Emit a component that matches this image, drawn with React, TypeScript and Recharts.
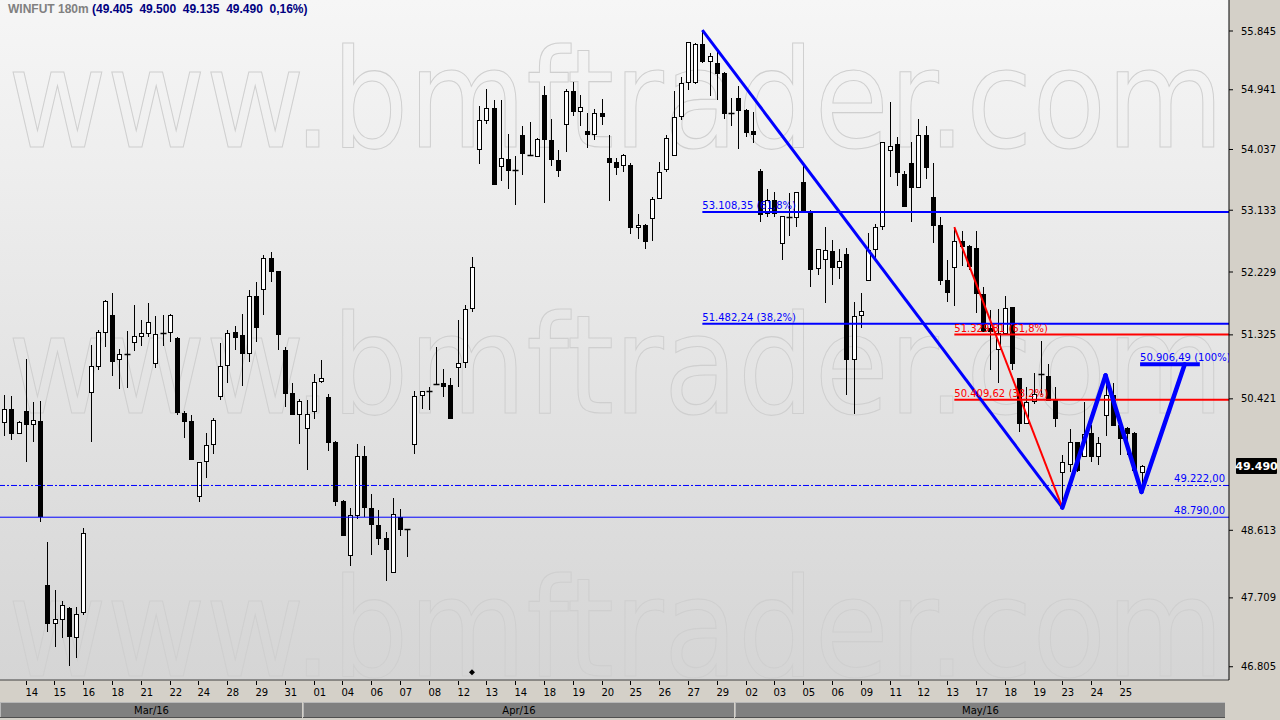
import React from 'react'
import { ComposedChart, Bar, XAxis, YAxis, ReferenceLine, ReferenceDot } from 'recharts'

// WINFUT 180m candles, one per slot, left to right (Mar/16 .. May/16)
const opens = [
  50099, 50280, 49946, 50252, 50071, 50113, 47883, 47380, 47432, 47576, 47195, 47524, 50518, 50885, 51360, 51610,
  50980, 51050, 51224, 51310, 51353, 50925, 51345, 51360, 51280, 50225, 50113, 49080, 49557, 49792, 50460, 50900,
  51360, 51324, 51066, 51882, 51985, 52430, 52240, 51109, 50504, 50210, 50015, 50250, 50666, 50447, 49815, 49010,
  48280, 48820, 49627, 48910, 48685, 48510, 48050, 48795, 48620, 49792, 50475, 50525, 50630, 50640, 50615, 50870,
  50940, 51710, 54044, 54480, 54660, 53790, 53895, 53730, 54255, 53960, 53945, 54860, 54185, 53880, 54420, 54925,
  54620, 54315, 54270, 54580, 53910, 53850, 53800, 53800, 52890, 52920, 53020, 53310, 53745, 53950, 54540, 55060,
  55060, 55645, 55385, 55350, 55200, 54580, 54820, 54640, 54315, 53715, 53090, 53284, 52650, 53025, 53030, 53545,
  53120, 52285, 52420, 52535, 52300, 52490, 50980, 51610, 52115, 52565, 52895, 54030, 54120, 53670, 53840, 53470,
  54255, 53330, 52920, 52115, 52300, 52685, 52610, 52580, 51910, 51420, 51123, 51350, 51725, 50715, 50085, 50395,
  50775, 50735, 50405, 49410, 49517, 49820, 49620, 49945, 49620, 50195, 50475, 50060, 50020, 49945, 49405,
]
const highs = [
  50475, 50460, 50110, 50983, 50377, 50390, 48456, 47814, 47668, 47590, 47585, 48645, 51180, 51390, 51830, 51925,
  51123, 51380, 51752, 51539, 51780, 51595, 51610, 51620, 51295, 50250, 50195, 49550, 49950, 50160, 51210, 51390,
  51445, 51620, 51970, 52085, 52475, 52520, 52245, 51152, 50645, 50419, 50405, 50770, 50970, 50490, 49835, 49024,
  48917, 49787, 49765, 49105, 48890, 48590, 49050, 48905, 48635, 50530, 50535, 50590, 51152, 50840, 50720, 51539,
  51752, 52445, 54690, 54950, 54785, 54785, 54270, 53945, 54390, 54455, 54205, 55000, 54490, 54030, 54955, 55060,
  54860, 54590, 54655, 54800, 54255, 53910, 53965, 53840, 53070, 52925, 53330, 53850, 54255, 54920, 55140, 55680,
  55660, 55860, 55505, 55551, 55205, 54820, 55000, 54645, 54610, 53740, 53450, 53405, 53050, 53390, 53405, 53840,
  53135, 52570, 52885, 52700, 52565, 52580, 51800, 51925, 52800, 52935, 54155, 54760, 54225, 53715, 54150, 54500,
  54390, 53840, 53040, 52400, 52885, 52830, 52615, 52830, 52010, 51680, 51695, 51880, 51730, 50720, 50590, 50785,
  51235, 50910, 50590, 49640, 50000, 49825, 50380, 50055, 49890, 50700, 50650, 50130, 50030, 49960, 49500,
]
const lows = [
  49905, 49848, 49940, 49545, 49820, 48727, 47263, 47063, 47181, 46815, 46920, 47484, 49820, 50827, 51152, 50740,
  50560, 50575, 51095, 51166, 51295, 50850, 51166, 51230, 50195, 49878, 49580, 48998, 49325, 49654, 50405, 50650,
  51109, 50600, 50940, 51230, 51610, 52085, 51109, 50307, 50205, 49792, 49435, 50140, 50650, 49695, 48943, 48545,
  48135, 48770, 48795, 48280, 48415, 47935, 48045, 48535, 48255, 49654, 50280, 50265, 50625, 50450, 50150, 50590,
  50855, 51650, 53820, 54420, 53515, 53570, 53450, 53210, 53650, 53945, 53930, 53240, 53790, 53620, 54000, 54540,
  54390, 54060, 54185, 54405, 53270, 53650, 53705, 52780, 52710, 52565, 52685, 53300, 53705, 53945, 54480, 54935,
  55035, 55350, 54850, 54785, 54490, 54390, 54045, 54230, 54140, 52955, 53040, 53040, 52400, 52750, 52885, 53130,
  52010, 52180, 51780, 52040, 52130, 50475, 50210, 51420, 52110, 52400, 52845, 53620, 53490, 53195, 52960, 53465,
  53600, 52650, 52040, 51795, 51740, 52315, 52255, 51640, 51370, 50830, 50650, 51345, 50830, 49960, 50080, 50350,
  50475, 50400, 50030, 48920, 49410, 49410, 49615, 49545, 49500, 49900, 50055, 49640, 49640, 49430, 49135,
]
const closes = [
  50280, 49946, 50099, 50071, 50127, 48810, 47380, 47432, 47616, 47208, 47498, 48581, 50885, 51360, 51810, 50955,
  51050, 51040, 51310, 51353, 51510, 51338, 51355, 51610, 50240, 50113, 49585, 49545, 49778, 50125, 50885, 51353,
  51295, 51066, 51882, 51438, 52430, 52240, 51338, 50504, 50210, 50390, 50210, 50660, 50710, 49820, 49010, 48550,
  48820, 49627, 48930, 48700, 48510, 48360, 48830, 48630, 48625, 50460, 50530, 50535, 50630, 50605, 50155, 50925,
  51695, 52300, 54480, 54660, 53520, 53910, 53730, 53725, 53985, 53955, 54200, 54200, 53895, 53730, 54925, 54620,
  54680, 54270, 54590, 54540, 53850, 53775, 53960, 52890, 52920, 52685, 53300, 53700, 54215, 54525, 55050, 55675,
  55645, 55385, 55460, 55200, 54595, 54575, 54640, 54305, 54270, 53080, 53284, 53090, 53045, 53030, 53400, 53135,
  52270, 52565, 52550, 52300, 52390, 50980, 51595, 51665, 52550, 52885, 54150, 54090, 53700, 53200, 53470, 54255,
  53775, 52910, 52115, 51940, 52685, 52610, 52315, 51925, 51375, 51380, 51350, 51710, 50925, 50085, 50380, 50490,
  50770, 50405, 50155, 49545, 49820, 49435, 49930, 49620, 49805, 50475, 50060, 49880, 49950, 49435, 49490,
]

// date axis: label every 4th slot
const dayTicks = [3, 7, 11, 15, 19, 23, 27, 31, 35, 39, 43, 47, 51, 55, 59, 63, 67, 71, 75, 79,
  83, 87, 91, 95, 99, 103, 107, 111, 115, 119, 123, 127, 131, 135, 139, 143, 147, 151, 155]
const dayLabels = ['14', '15', '16', '18', '21', '22', '24', '28', '29', '31', '01', '04', '06', '07', '08', '12',
  '13', '14', '18', '19', '20', '25', '26', '27', '29', '02', '03', '05', '06', '09', '11', '12', '13', '17', '18',
  '19', '23', '24', '25']
const monthStarts = [0, 42, 102]
const monthNames = ['Mar/16', 'Apr/16', 'May/16']

const priceTicks = [46805, 47709, 48613, 50421, 51325, 52229, 53133, 54037, 54941, 55845]

// drawings
const blueFibLevels = [53108.35, 51482.24]
const blueFibPct = ['61,8%', '38,2%']
const redFibLevels = [51329.81, 50409.62]
const redFibPct = ['61,8%', '38,2%']
const supportLevel = 48790
const dashLevel = 49222
const targetLevel = 50906.49
const trendBlue = [{ x: 97, y: 55860 }, { x: 147, y: 48920 }]
const trendRed = [{ x: 132, y: 52885 }, { x: 147, y: 48920 }]
const pattern = [{ x: 147, y: 48920 }, { x: 153, y: 50750 }, { x: 158, y: 49135 }, { x: 164, y: targetLevel }]
const markerSlot = 65
const markerPrice = 46735

const X_MIN = -0.556
const X_MAX = 170.15
const Y_MIN = 46633
const Y_MAX = 56328
const PLOT_W = 1229
const PLOT_H = 680

const data = opens.map((o, i) => ({ i, o, h: highs[i], l: lows[i], c: closes[i] }))

const fmtBR = (v: number) => {
  const [int, dec] = v.toFixed(2).split('.')
  return int.replace(/\B(?=(\d{3})+(?!\d))/g, '.') + ',' + dec
}
const fmtAxis = (v: number) => (v / 1000).toFixed(3)

const FONT = '"DejaVu Sans", Verdana, sans-serif'

function Candle(props: any) {
  const { x, y, width, height, payload } = props
  if (!payload || height == null) return null
  const cx = Math.round(x + width / 2) + 0.5
  const lh = Math.log(payload.h)
  const ll = Math.log(payload.l)
  const span = lh - ll || 1
  const py = (v: number) => y + (height * (lh - Math.log(v))) / span
  const yo = py(payload.o)
  const yc = py(payload.c)
  const top = Math.round(Math.min(yo, yc))
  const bot = Math.round(Math.max(yo, yc))
  const up = payload.c >= payload.o
  return (
    <g>
      <line x1={cx} x2={cx} y1={Math.round(y)} y2={Math.round(y + height)} stroke="#000" strokeWidth={1} />
      {bot - top < 2 ? (
        <line x1={cx - 3} x2={cx + 3} y1={top + 0.5} y2={top + 0.5} stroke="#000" strokeWidth={1.5} />
      ) : (
        <rect x={cx - 2} y={top + 0.5} width={4} height={bot - top} fill={up ? '#fff' : '#000'} stroke="#000" strokeWidth={1} />
      )}
    </g>
  )
}

function DayTick(props: any) {
  const { x, payload } = props
  const k = dayTicks.indexOf(payload.value)
  const tx = Math.round(x) + 0.5
  return (
    <g>
      <line x1={tx} x2={tx} y1={PLOT_H + 1} y2={PLOT_H + 5} stroke="#000" />
      <text x={tx - 1} y={PLOT_H + 16} fontSize={10} fontFamily={FONT} fill="#000">
        {dayLabels[k]}
      </text>
    </g>
  )
}

function MonthTick(props: any) {
  const { x, payload } = props
  const k = monthStarts.indexOf(payload.value)
  const unit = PLOT_W / (X_MAX - X_MIN)
  const left = Math.round(x - unit / 2)
  const endSlot = k + 1 < monthStarts.length ? monthStarts[k + 1] - 0.5 : X_MAX - 0.4
  const right = Math.round(x + (endSlot - payload.value) * unit)
  const top = PLOT_H + 22
  return (
    <g>
      <rect x={left} y={top} width={right - left - 1} height={16} fill="#808080" />
      <line x1={left} x2={right - 1} y1={top + 0.5} y2={top + 0.5} stroke="#b8b8b8" />
      <line x1={left + 0.5} x2={left + 0.5} y1={top} y2={top + 16} stroke="#b8b8b8" />
      <line x1={left} x2={right - 1} y1={top + 15.5} y2={top + 15.5} stroke="#505050" />
      <text x={(left + right) / 2} y={top + 12} textAnchor="middle" fontSize={10} fontFamily={FONT} fill="#000">
        {monthNames[k]}
      </text>
    </g>
  )
}

function LevelText({ cx, cy, text, color, anchor }: any) {
  return (
    <svg x={0} y={0} width={PLOT_W} height={PLOT_H} overflow="hidden">
      <text x={anchor === 'end' ? cx - 4 : cx} y={cy - 3} textAnchor={anchor || 'start'} fontSize={10} fontFamily={FONT} fill={color}>
        {text}
      </text>
    </svg>
  )
}

function PriceTag({ cx, cy, text }: any) {
  return (
    <g>
      <rect x={cx + 7} y={cy - 8} width={41} height={16} fill="#000" rx={1} />
      <text x={cx + 27.5} y={cy + 4} textAnchor="middle" fontSize={11} fontWeight="bold" fontFamily={FONT} fill="#fff">
        {text}
      </text>
    </g>
  )
}

function Watermark() {
  const rows = [147, 413, 676]
  return (
    <svg width={PLOT_W} height={PLOT_H} style={{ position: 'absolute', left: 0, top: 0 }}>
      {rows.map((b) => (
        <text key={b} x={8} y={b} textLength={1216} lengthAdjust="spacingAndGlyphs" fontSize={138}
          fontFamily={FONT} fill="none" stroke="#cfcfcf" strokeWidth={1.1}>
          www.bmftrader.com
        </text>
      ))}
    </svg>
  )
}

export default function App() {
  const last = opens.length - 1
  const change = '0,16%'
  return (
    <div style={{ position: 'relative', width: 1280, height: 720, background: '#d4d0c8', overflow: 'hidden' }}>
      <style>{'body{margin:0}'}</style>
      <div style={{ position: 'absolute', left: 0, top: 0, width: PLOT_W, height: PLOT_H, background: 'linear-gradient(#f6f6f6, #d5d5d5)' }}>
        <Watermark />
      </div>
      <div style={{ position: 'absolute', left: 0, top: 0 }}>
        <ComposedChart width={1280} height={720} data={data} margin={{ top: 0, right: 0, bottom: 0, left: 0 }}>
          <XAxis dataKey="i" type="number" domain={[X_MIN, X_MAX]} allowDataOverflow ticks={dayTicks} interval={0}
            height={22} tick={<DayTick />} tickLine={false} axisLine={{ stroke: '#404040' }} />
          <XAxis xAxisId="m" dataKey="i" type="number" domain={[X_MIN, X_MAX]} allowDataOverflow ticks={monthStarts}
            interval={0} height={18} tick={<MonthTick />} tickLine={false} axisLine={false} />
          <YAxis orientation="right" scale="log" domain={[Y_MIN, Y_MAX]} allowDataOverflow ticks={priceTicks}
            interval={0} width={51} tickSize={4} tickMargin={8} tickFormatter={fmtAxis}
            tick={{ fill: '#000', fontSize: 10, fontFamily: FONT }} axisLine={{ stroke: '#000' }} tickLine={{ stroke: '#000' }} />

          {blueFibLevels.map((v, k) => (
            <ReferenceDot key={'bl' + k} x={97} y={v} ifOverflow="visible"
              shape={(p: any) => <LevelText cx={p.cx} cy={p.cy} text={`${fmtBR(v)} (${blueFibPct[k]})`} color="#0000ff" />} />
          ))}
          {redFibLevels.map((v, k) => (
            <ReferenceDot key={'rl' + k} x={132} y={v} ifOverflow="visible"
              shape={(p: any) => <LevelText cx={p.cx} cy={p.cy} text={`${fmtBR(v)} (${redFibPct[k]})`} color="#ff0000" />} />
          ))}
          <ReferenceDot x={157.8} y={targetLevel} ifOverflow="visible"
            shape={(p: any) => <LevelText cx={p.cx} cy={p.cy} text={`${fmtBR(targetLevel)} (100%)`} color="#0000ff" />} />
          <ReferenceDot x={X_MAX} y={dashLevel} ifOverflow="visible"
            shape={(p: any) => <LevelText cx={p.cx} cy={p.cy} text={fmtBR(dashLevel)} color="#0000ff" anchor="end" />} />
          <ReferenceDot x={X_MAX} y={supportLevel} ifOverflow="visible"
            shape={(p: any) => <LevelText cx={p.cx} cy={p.cy} text={fmtBR(supportLevel)} color="#0000ff" anchor="end" />} />

          <Bar dataKey={(d: any) => [d.l, d.h]} shape={<Candle />} isAnimationActive={false} />

          <ReferenceLine y={supportLevel} stroke="#0000ff" strokeWidth={1} ifOverflow="visible" />
          <ReferenceLine y={dashLevel} stroke="#0000ff" strokeWidth={1} strokeDasharray="6 2 2 2" ifOverflow="visible" />
          {blueFibLevels.map((v, k) => (
            <ReferenceLine key={'bf' + k} segment={[{ x: 97, y: v }, { x: X_MAX, y: v }]} stroke="#0000ff" strokeWidth={2} ifOverflow="visible" />
          ))}
          {redFibLevels.map((v, k) => (
            <ReferenceLine key={'rf' + k} segment={[{ x: 132, y: v }, { x: X_MAX, y: v }]} stroke="#ff0000" strokeWidth={2} ifOverflow="visible" />
          ))}
          <ReferenceLine segment={[{ x: 157.8, y: targetLevel }, { x: 166.1, y: targetLevel }]} stroke="#0000ff" strokeWidth={4} ifOverflow="visible" />
          <ReferenceLine segment={trendBlue} stroke="#0000ff" strokeWidth={3} ifOverflow="visible" />
          <ReferenceLine segment={trendRed} stroke="#ff0000" strokeWidth={2} ifOverflow="visible" />
          {pattern.slice(1).map((p, k) => (
            <ReferenceLine key={'pt' + k} segment={[pattern[k], p]} stroke="#0000ff" strokeWidth={4.5} strokeLinecap="round" ifOverflow="visible" />
          ))}
          <ReferenceDot x={markerSlot} y={markerPrice} ifOverflow="visible"
            shape={(p: any) => <polygon points={`${p.cx},${p.cy - 3} ${p.cx + 3},${p.cy} ${p.cx},${p.cy + 3} ${p.cx - 3},${p.cy}`} fill="#000" />} />
          <ReferenceDot x={X_MAX} y={closes[last]} ifOverflow="visible"
            shape={(p: any) => <PriceTag cx={p.cx} cy={p.cy} text={fmtAxis(closes[last])} />} />
        </ComposedChart>
      </div>
      <div style={{ position: 'absolute', left: 8, top: 2, fontFamily: '"Liberation Sans", Arial, sans-serif', fontSize: 12, fontWeight: 'bold', whiteSpace: 'pre' }}>
        <span style={{ color: '#808080' }}>WINFUT 180m </span>
        <span style={{ color: '#000080' }}>
          {`(${fmtAxis(opens[last])}  ${fmtAxis(highs[last])}  ${fmtAxis(lows[last])}  ${fmtAxis(closes[last])}  ${change})`}
        </span>
      </div>
    </div>
  )
}
